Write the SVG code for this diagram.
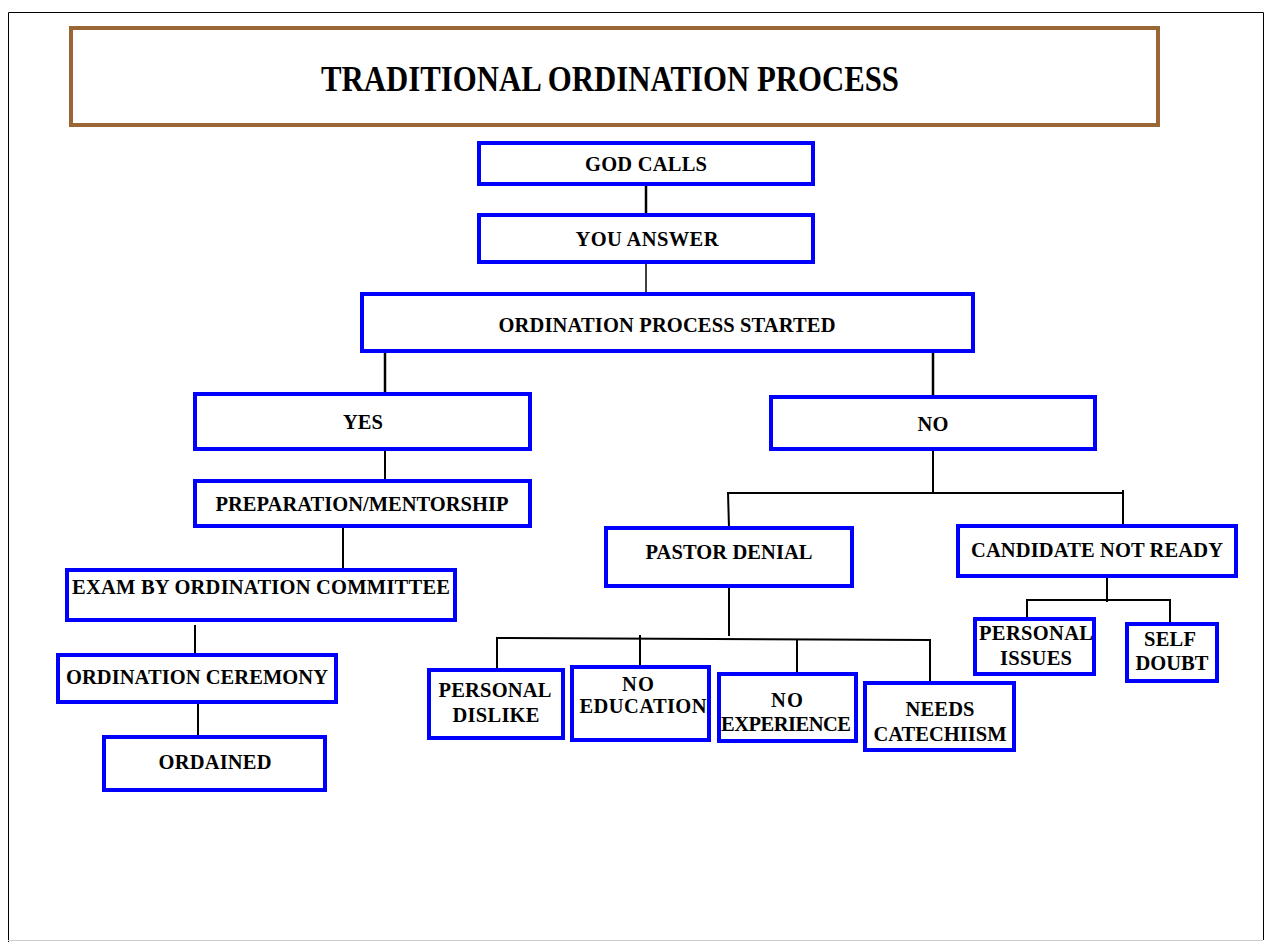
<svg xmlns="http://www.w3.org/2000/svg" width="1265" height="942" viewBox="0 0 1265 942">
<style>
.box{fill:#fff;stroke:#0000ff;stroke-width:4}
.t{font-family:"Liberation Serif","Times New Roman",serif;font-weight:bold;font-size:20.5px;fill:#000;text-anchor:middle}
.c line{stroke:#000;stroke-width:2}
</style>
<rect x="0" y="0" width="1265" height="942" fill="#fff"/>
<g id="frame" fill="none">
<path d="M8.5 942 V12.5 H1263.5 V940" stroke="#000" stroke-width="1"/>
<line x1="8" y1="940.5" x2="1263" y2="940.5" stroke="#ccc" stroke-width="1"/>
</g>
<g id="title">
<rect x="71" y="28" width="1087" height="97" fill="#fff" stroke="#9a6636" stroke-width="4"/>
<text class="t" x="610" y="91" style="font-size:35px" textLength="578" lengthAdjust="spacingAndGlyphs">TRADITIONAL ORDINATION PROCESS</text>
</g>
<g class="c" id="connectors">
<line x1="646" y1="184" x2="646" y2="215" style="stroke-width:2.5"/>
<line x1="646" y1="262" x2="646" y2="294" style="stroke-width:1.5"/>
<line x1="385" y1="351" x2="385" y2="394" style="stroke-width:2.5"/>
<line x1="933" y1="351" x2="933" y2="397" style="stroke-width:2.5"/>
<line x1="385" y1="449" x2="385" y2="481"/>
<line x1="343" y1="526" x2="343" y2="570"/>
<line x1="195" y1="625" x2="195" y2="655"/>
<line x1="198" y1="702" x2="198" y2="742"/>
<line x1="933" y1="449" x2="933" y2="493"/>
<line x1="728" y1="493" x2="1123" y2="493"/>
<line x1="728" y1="492" x2="729" y2="528"/>
<line x1="1123" y1="490" x2="1123" y2="526"/>
<line x1="729" y1="586" x2="729" y2="636"/>
<line x1="497" y1="638" x2="930" y2="640"/>
<line x1="497" y1="637" x2="497" y2="670"/>
<line x1="640" y1="635" x2="640" y2="667"/>
<line x1="797" y1="639" x2="797" y2="674"/>
<line x1="930" y1="639" x2="930" y2="683"/>
<line x1="1107" y1="576" x2="1107" y2="602"/>
<line x1="1027" y1="600" x2="1170" y2="600"/>
<line x1="1027" y1="599" x2="1027" y2="619"/>
<line x1="1170" y1="599" x2="1170" y2="624"/>
</g>
<g id="n-god-calls"><rect class="box" x="479" y="143" width="334" height="41"/><text class="t" x="646" y="171" textLength="122">GOD CALLS</text></g>
<g id="n-you-answer"><rect class="box" x="479" y="215" width="334" height="47"/><text class="t" x="647" y="246" textLength="143">YOU ANSWER</text></g>
<g id="n-process-started"><rect class="box" x="362" y="294" width="611" height="57"/><text class="t" x="667" y="332" textLength="337">ORDINATION PROCESS STARTED</text></g>
<g id="n-yes"><rect class="box" x="195" y="394" width="335" height="55"/><text class="t" x="363" y="429" textLength="40">YES</text></g>
<g id="n-no"><rect class="box" x="771" y="397" width="324" height="52"/><text class="t" x="933" y="431" textLength="31">NO</text></g>
<g id="n-preparation"><rect class="box" x="195" y="481" width="335" height="45"/><text class="t" x="362" y="511" textLength="293">PREPARATION/MENTORSHIP</text></g>
<g id="n-exam"><rect class="box" x="67" y="570" width="388" height="50"/><text class="t" x="261" y="594" textLength="378">EXAM BY ORDINATION COMMITTEE</text></g>
<g id="n-ceremony"><rect class="box" x="58" y="655" width="278" height="47"/><text class="t" x="197" y="684" textLength="262">ORDINATION CEREMONY</text></g>
<g id="n-ordained"><rect class="box" x="104" y="737" width="221" height="53"/><text class="t" x="215" y="769" textLength="113">ORDAINED</text></g>
<g id="n-pastor-denial"><rect class="box" x="606" y="528" width="246" height="58"/><text class="t" x="729" y="559" textLength="167">PASTOR DENIAL</text></g>
<g id="n-candidate-not-ready"><rect class="box" x="958" y="526" width="278" height="50"/><text class="t" x="1097" y="557" textLength="252">CANDIDATE NOT READY</text></g>
<g id="n-personal-dislike"><rect class="box" x="429" y="670" width="134" height="68"/><text class="t" x="495" y="697" textLength="113">PERSONAL</text><text class="t" x="496" y="722" textLength="87">DISLIKE</text></g>
<g id="n-no-education"><rect class="box" x="572" y="667" width="137" height="73"/><text class="t" x="638" y="691" textLength="32">NO</text><text class="t" x="643" y="713" textLength="127">EDUCATION</text></g>
<g id="n-no-experience"><rect class="box" x="719" y="674" width="137" height="67"/><text class="t" x="787" y="707" textLength="32">NO</text><text class="t" x="786" y="731" textLength="130">EXPERIENCE</text></g>
<g id="n-needs-catechiism"><rect class="box" x="865" y="683" width="149" height="67"/><text class="t" x="940" y="716" textLength="69">NEEDS</text><text class="t" x="940" y="741" textLength="133">CATECHIISM</text></g>
<g id="n-personal-issues"><rect class="box" x="975" y="619" width="119" height="55"/><text class="t" x="1036" y="640" textLength="114">PERSONAL</text><text class="t" x="1036" y="665" textLength="72">ISSUES</text></g>
<g id="n-self-doubt"><rect class="box" x="1127" y="624" width="90" height="57"/><text class="t" x="1170" y="646" textLength="52">SELF</text><text class="t" x="1172" y="670" textLength="73">DOUBT</text></g>
</svg>
